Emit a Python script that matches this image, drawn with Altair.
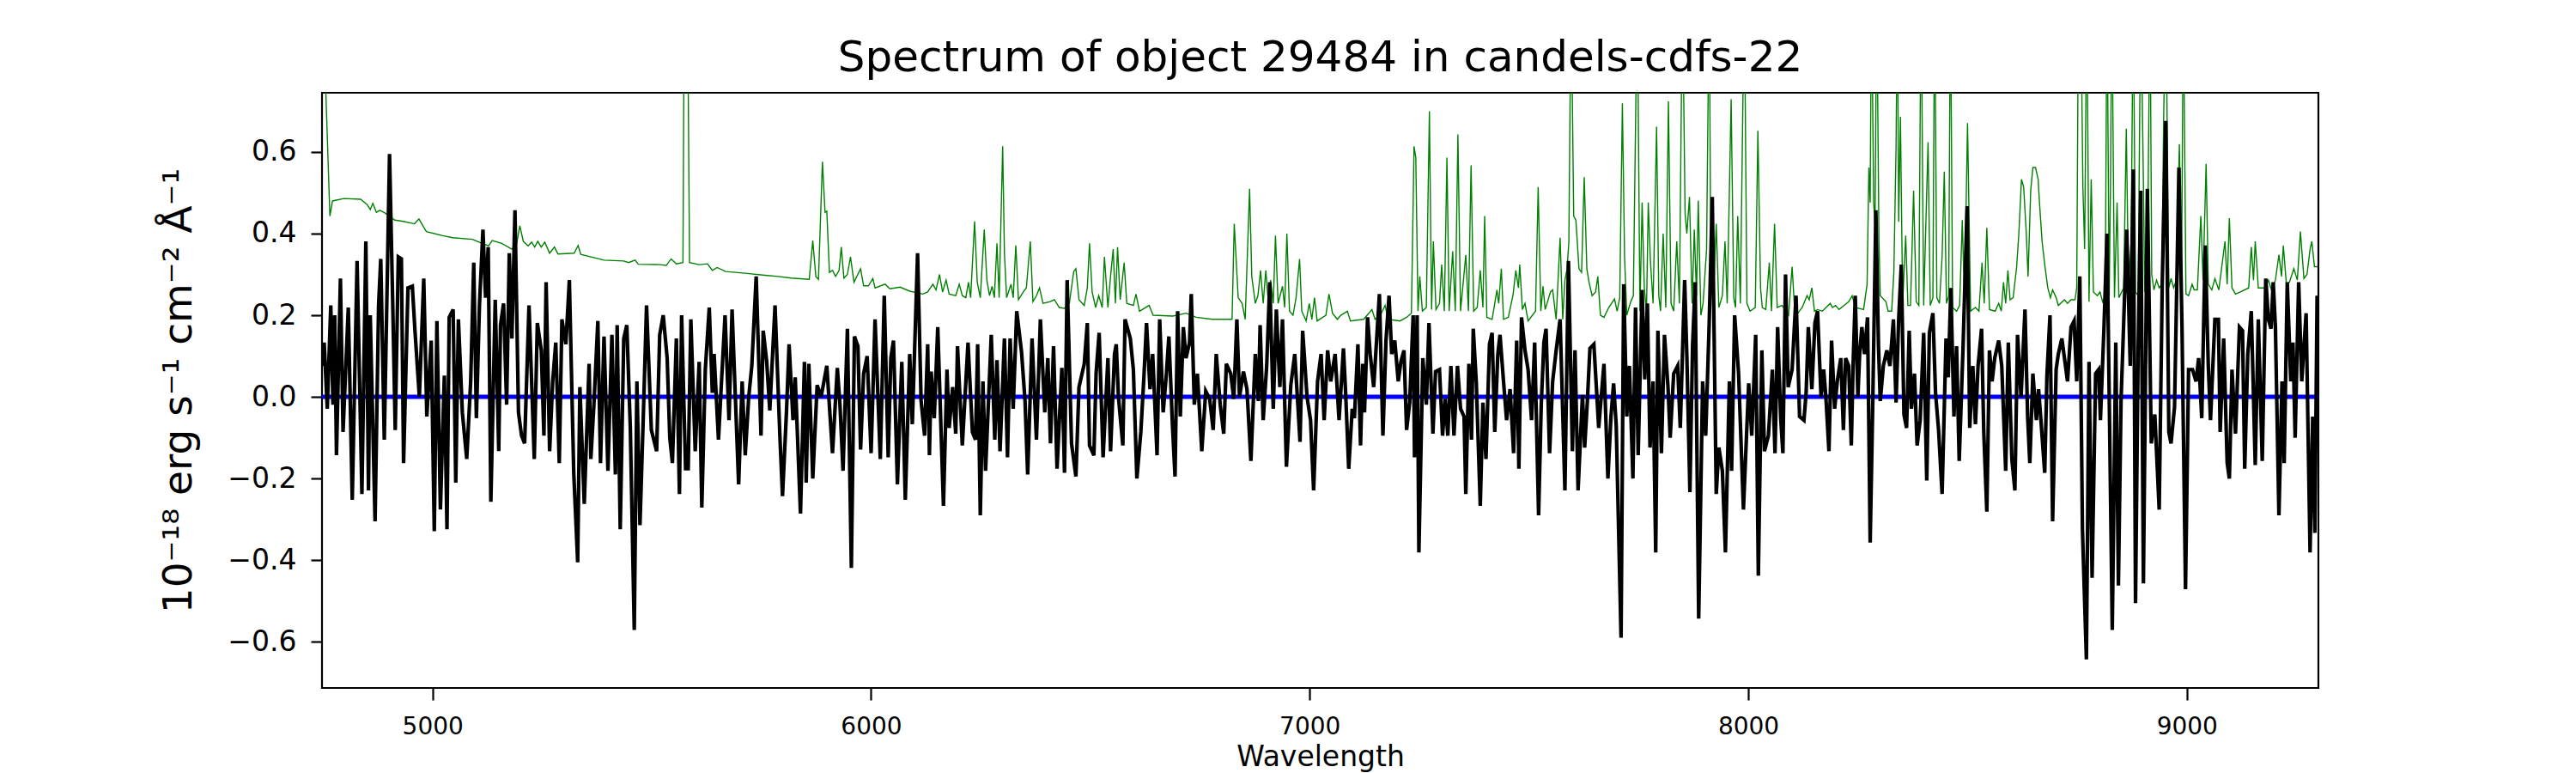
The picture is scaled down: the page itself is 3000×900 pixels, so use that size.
import altair as alt
import pandas as pd

# ---------------- data ----------------
title_text = "Spectrum of object 29484 in candels-cdfs-22"
x_label = "Wavelength"
y_label = "10⁻¹⁸ erg s⁻¹ cm⁻² Å⁻¹"
x_ticks = [5000, 6000, 7000, 8000, 9000]
y_ticks = [-0.6, -0.4, -0.2, 0.0, 0.2, 0.4, 0.6]
x_range = [4748, 9300]
y_range = [-0.713, 0.745]

# black: object flux  (wavelength, flux)
flux_a = [(4748,0.076),(4753,0.133),(4760,-0.029),(4768,0.224),(4773,-0.019),(4777,0.2),(4781,-0.143),(4790,0.29),(4796,-0.086),(4808,0.219),
(4817,-0.252),(4828,0.333),(4839,-0.238),(4848,0.381),(4854,-0.229),(4858,0.2),(4869,-0.305),(4877,0.224),(4882,0.338),(4890,-0.105),
(4896,0.243),(4902,0.595),(4909,0.243),(4915,-0.081),(4922,0.343),(4929,0.338),(4934,-0.162),(4944,0.267),(4954,0.271),(4960,0.162),
(4970,0.0),(4980,0.29),(4987,-0.048),(4997,0.138),(5004,-0.329),(5010,0.186),(5018,-0.276),(5027,0.052),(5033,-0.324),(5038,0.195),
(5047,0.214),(5053,-0.21),(5059,0.19),(5068,-0.038),(5078,-0.152),(5087,0.038),(5094,0.329),(5100,-0.052),(5107,0.224),(5115,0.41),
(5121,0.243),(5127,0.367),(5133,-0.257),(5143,0.238),(5151,-0.133),(5155,0.176),(5162,0.229),(5169,-0.019),(5175,0.352),(5181,0.143),
(5188,0.457),(5196,-0.038),(5203,-0.095),(5210,-0.114),(5220,0.224),(5232,-0.152),(5239,0.181),(5248,0.114),(5254,-0.095),(5259,0.281),
(5267,-0.133),(5274,0.038),(5281,0.133),(5289,-0.162),(5295,0.19),(5304,0.129),(5312,0.286),(5322,-0.186),(5331,-0.405),(5336,0.024),
(5346,-0.262),(5357,0.081),(5361,-0.152),(5368,-0.019),(5377,0.186),(5383,-0.162),(5391,0.148),(5400,-0.181),(5409,0.152),(5417,-0.19),
(5421,0.176),(5428,-0.324),(5436,0.143),(5443,0.176),(5451,-0.076),(5460,-0.571),(5466,0.038),(5473,-0.314),(5481,-0.033),(5488,0.224),
(5499,-0.081),(5511,-0.133),(5518,0.152),(5526,0.2),(5535,0.095),(5541,-0.1),(5547,-0.162),(5556,0.143),(5563,-0.238),(5568,0.2),
(5577,-0.176),(5583,-0.176),(5589,0.19),(5599,-0.133),(5608,0.086),(5614,-0.271),(5622,0.067),(5631,0.219),(5638,0.01),(5642,0.105),
(5652,-0.105),(5658,0.019),(5667,0.2),(5676,-0.057),(5683,0.214),(5698,-0.214),(5706,0.038),(5713,-0.143),(5721,0.0),(5728,0.076),
(5738,0.295),(5749,-0.095),(5754,0.162),(5762,0.086),(5769,-0.033),(5781,0.224),(5792,-0.095),(5798,-0.243),(5807,-0.038),(5813,0.129),
(5822,-0.057),(5827,0.048),(5839,-0.286),(5848,0.086),(5852,-0.21),(5858,0.081),(5867,-0.2),(5877,0.029),(5886,0.0),(5899,0.076),(5912,-0.138)]

flux_b = [(5923,0.071),(5929,-0.019),(5936,-0.181),(5946,0.167),(5955,-0.419),(5962,0.148),(5970,0.124),(5976,-0.129),(5983,0.057),(5991,0.1),
(6000,-0.138),(6009,0.19),(6021,-0.152),(6030,0.248),(6039,-0.148),(6045,0.095),(6051,0.138),(6060,-0.214),(6070,0.086),(6078,-0.252),
(6088,0.105),(6094,-0.067),(6106,0.352),(6114,-0.01),(6122,-0.095),(6129,0.129),(6133,-0.143),(6137,0.062),(6144,-0.052),(6152,0.171),
(6165,-0.267),(6173,0.067),(6178,-0.076),(6186,0.024),(6193,-0.09),(6197,0.124),(6208,-0.119),(6221,0.133),(6231,-0.086),(6238,-0.105),
(6243,0.129),(6249,-0.29),(6255,0.038),(6261,-0.181),(6274,0.152),(6282,-0.105),(6287,0.09),(6294,-0.133),(6304,0.143),(6311,-0.148),
(6317,0.143),(6324,-0.029),(6332,0.21),(6343,0.11),(6351,-0.01),(6357,-0.19),(6367,0.143),(6377,-0.105),(6386,0.19),(6396,-0.038),
(6403,0.095),(6409,-0.114),(6416,0.124),(6424,-0.176),(6435,0.071),(6441,-0.186),(6447,0.286),(6457,-0.114),(6467,-0.195),(6474,0.024),
(6486,0.081),(6493,0.181),(6498,-0.119),(6508,-0.143),(6513,0.057),(6520,0.157),(6529,-0.148),(6540,0.095),(6546,-0.133),(6555,0.105),
(6559,0.129),(6564,0.0),(6574,-0.119),(6579,0.19),(6591,0.143),(6598,0.067),(6606,-0.2),(6615,-0.086),(6622,0.048),(6628,0.181),
(6636,0.019),(6642,0.105),(6652,-0.143),(6658,0.19),(6666,-0.038),(6673,0.052),(6679,0.148),(6687,-0.067),(6693,-0.195),(6699,0.21),
(6705,-0.048),(6712,0.171),(6718,0.095),(6726,0.133),(6730,0.252),(6737,-0.019),(6744,0.057),(6754,-0.133),(6763,0.014),(6772,-0.005),
(6780,-0.081),(6787,0.105),(6796,-0.019),(6804,-0.09),(6810,0.081),(6820,0.057),(6827,-0.005),(6834,0.19),(6840,0.0),(6849,0.062),
(6857,0.019),(6866,-0.157),(6876,0.105),(6883,-0.01),(6887,0.176),(6894,-0.057),(6902,0.076),(6909,0.281),(6917,-0.029),(6924,0.214),
(6932,0.024),(6938,0.19),(6947,-0.171),(6957,0.029),(6966,0.105),(6973,-0.019),(6978,-0.11),(6984,0.162),(6994,0.0),(7002,-0.057),
(7009,-0.229),(7018,0.038),(7026,0.105),(7033,-0.057),(7041,0.114),(7048,0.038),(7058,0.105),(7067,-0.057)]

flux_c = [(7077,0.119),(7082,0.01),(7089,-0.176),(7097,-0.029),(7102,-0.052),(7110,0.129),(7116,-0.119),(7121,0.081),(7125,-0.038),(7132,0.195),
(7138,0.105),(7146,0.024),(7152,0.129),(7159,0.252),(7167,-0.095),(7174,0.138),(7181,0.248),(7187,0.105),(7194,0.138),(7202,0.038),
(7208,0.086),(7215,0.114),(7221,-0.081),(7228,-0.014),(7236,0.2),(7239,-0.148),(7245,0.2),(7249,-0.381),(7258,0.095),(7266,-0.019),
(7272,0.181),(7281,-0.09),(7287,0.062),(7296,0.067),(7303,-0.095),(7309,-0.005),(7315,-0.095),(7322,0.076),(7329,-0.095),(7337,0.076),
(7344,-0.029),(7352,-0.048),(7356,-0.238),(7363,0.081),(7369,-0.105),(7373,0.167),(7380,0.033),(7389,-0.267),(7395,-0.014),(7402,-0.152),
(7410,0.129),(7416,0.157),(7422,-0.086),(7429,0.105),(7434,0.152),(7442,0.038),(7449,-0.057),(7457,0.019),(7465,-0.138),(7472,0.138),
(7477,-0.176),(7483,0.195),(7491,0.114),(7498,0.067),(7506,-0.057),(7513,0.133),(7522,-0.29),(7528,-0.019),(7534,0.133),(7539,0.167),
(7547,-0.138),(7554,0.038),(7562,0.114),(7571,0.19),(7582,-0.229),(7590,0.333),(7599,-0.133),(7605,0.114),(7612,-0.229),(7622,0.005),
(7627,-0.124),(7633,-0.014),(7639,0.119),(7648,0.129),(7656,-0.019),(7659,-0.076),(7671,0.081),(7680,-0.2),(7687,-0.048),(7693,0.033),
(7699,-0.071),(7710,-0.59),(7716,0.276),(7723,-0.048),(7729,0.076),(7737,-0.2),(7743,0.219),(7749,-0.143),(7758,0.262),(7764,0.043),
(7770,0.229),(7776,-0.124),(7783,0.038),(7789,-0.381),(7794,0.162),(7802,-0.138),(7809,0.152),(7817,0.024),(7822,-0.1),(7830,0.057),
(7839,0.076),(7845,-0.076),(7855,0.286),(7860,0.1),(7867,-0.233),(7873,0.124),(7879,0.281),(7887,-0.543),(7896,0.038),(7903,-0.095),
(7911,0.181),(7918,0.49),(7927,-0.238),(7933,-0.124),(7941,-0.181),(7948,-0.381),(7957,0.038),(7962,-0.181),(7969,0.2),(7978,0.057),
(7989,-0.276),(8001,0.033),(8008,-0.095),(8017,0.152),(8023,-0.438),(8031,0.114),(8037,-0.133),(8046,-0.095),(8055,0.067),(8061,-0.138),
(8067,0.171),(8074,-0.052),(8079,-0.138),(8085,0.3),(8091,0.024),(8100,0.067),(8109,0.248),(8117,-0.048),(8127,-0.057),(8132,0.01),
(8137,0.171),(8145,0.019),(8152,0.181),(8158,0.21),(8166,0.0),(8172,0.067),(8177,0.0),(8184,-0.133),(8190,0.138),(8197,-0.029),
(8203,0.038),(8211,0.095),(8217,-0.081),(8222,0.095)]

flux_d = [(8229,0.076),(8235,-0.119),(8239,0.076),(8244,0.248),(8250,0.0),(8254,0.105),(8259,0.171),(8265,0.105),(8272,0.195),(8278,-0.357),
(8284,-0.01),(8291,0.457),(8297,0.124),(8301,-0.01),(8308,0.076),(8316,0.114),(8323,0.076),(8331,0.19),(8337,-0.014),(8343,0.19),
(8349,0.324),(8355,-0.043),(8361,-0.076),(8367,0.162),(8372,-0.029),(8379,0.057),(8385,-0.119),(8392,-0.057),(8400,0.157),(8407,-0.205),
(8413,0.157),(8421,0.205),(8427,0.01),(8434,-0.081),(8442,-0.238),(8451,0.143),(8456,0.048),(8462,0.267),(8469,-0.048),(8475,0.124),
(8481,-0.157),(8490,0.129),(8499,0.467),(8505,-0.076),(8512,0.076),(8518,-0.067),(8524,0.076),(8532,0.167),(8537,-0.086),(8544,-0.281),
(8550,0.114),(8556,0.038),(8562,0.095),(8571,0.138),(8578,0.076),(8587,-0.181),(8593,0.133),(8601,-0.152),(8608,-0.229),(8614,0.152),
(8622,0.0),(8631,0.214),(8637,-0.048),(8642,-0.162),(8649,0.057),(8657,-0.057),(8662,0.019),(8668,-0.067),(8676,-0.186),(8681,0.052),
(8688,0.2),(8694,-0.305),(8702,0.067),(8707,0.105),(8715,0.143),(8721,0.095),(8728,0.038),(8736,0.171),(8743,0.186),(8749,0.038),
(8756,0.295),(8762,-0.324),(8771,-0.643),(8777,0.086),(8784,-0.443),(8792,0.057),(8799,0.067),(8803,-0.057),(8811,0.167),(8818,0.4),
(8824,-0.076),(8830,-0.571),(8838,0.133),(8844,-0.462),(8850,-0.01),(8856,0.181),(8863,0.41),(8871,0.076),(8878,0.557),(8883,-0.505),
(8889,0.114),(8895,0.505),(8901,-0.457),(8910,0.51),(8919,-0.114),(8927,-0.043),(8937,-0.276),(8944,0.281),(8952,0.676),(8959,-0.086),
(8964,-0.114),(8972,-0.024),(8982,0.562),(8989,0.171),(8997,-0.471),(9004,0.067),(9013,0.067),(9021,0.038),(9027,0.095),(9034,-0.052),
(9042,0.371),(9049,0.076),(9054,-0.057),(9064,0.19),(9072,0.19),(9076,-0.086),(9084,0.143),(9092,-0.162),(9097,-0.2),(9103,0.067),
(9111,-0.09),(9120,0.171),(9127,0.162),(9132,-0.176),(9139,0.105),(9147,0.21),(9156,-0.167),(9163,0.19),(9172,-0.157),(9180,0.29),
(9186,0.19),(9192,0.167),(9197,0.281),(9202,0.171),(9210,-0.29),(9217,0.038),(9222,-0.162),(9229,0.281),(9237,0.038),(9242,0.133),
(9247,-0.1),(9255,0.281),(9262,0.038),(9272,0.205),(9281,-0.381),(9287,-0.048),(9292,-0.333),(9297,0.248)]

# green: noise / sky spectrum (values above the frame are clipped)
noise_a = [(4749,1.0),(4766,0.443),(4772,0.48),(4798,0.486),(4836,0.484),(4851,0.471),(4858,0.459),(4864,0.474),(4872,0.452),(4880,0.457),
(4892,0.45),(4914,0.433),(4933,0.43),(4959,0.424),(4969,0.436),(4978,0.419),(4986,0.405),(5023,0.395),(5046,0.39),(5091,0.386),
(5113,0.376),(5128,0.37),(5136,0.383),(5158,0.376),(5181,0.362),(5192,0.376),(5199,0.419),(5207,0.381),(5218,0.37),(5226,0.379),
(5233,0.367),(5240,0.381),(5248,0.367),(5256,0.379),(5267,0.352),(5278,0.367),(5286,0.35),(5323,0.352),(5332,0.371),(5338,0.349),
(5391,0.335),(5436,0.333),(5447,0.329),(5462,0.335),(5469,0.325),(5518,0.324),(5533,0.322),(5544,0.338),(5556,0.326),(5571,0.329),
(5575,1.2),(5580,1.2),(5586,0.329),(5608,0.324),(5627,0.326),(5638,0.31),(5649,0.317),(5668,0.307),(5713,0.303),(5758,0.298),
(5788,0.295),(5818,0.291),(5859,0.288),(5867,0.383),(5874,0.295),(5880,0.288),(5889,0.576),(5895,0.452),(5899,0.455),(5905,0.305),(5912,0.31)]

noise_b = [(5919,0.295),(5927,0.31),(5932,0.367),(5938,0.291),(5946,0.3),(5953,0.343),(5961,0.281),(5976,0.314),(5983,0.272),(5994,0.272),
(6004,0.29),(6009,0.267),(6032,0.276),(6043,0.265),(6066,0.269),(6088,0.259),(6118,0.252),(6129,0.257),(6141,0.276),(6148,0.262),
(6156,0.3),(6163,0.257),(6171,0.286),(6178,0.252),(6193,0.248),(6201,0.276),(6208,0.248),(6216,0.243),(6222,0.281),(6227,0.243),
(6236,0.43),(6242,0.281),(6249,0.243),(6258,0.41),(6264,0.286),(6270,0.248),(6276,0.271),(6281,0.243),(6287,0.376),(6292,0.243),
(6300,0.614),(6304,0.352),(6309,0.243),(6319,0.276),(6324,0.243),(6330,0.371),(6336,0.238),(6347,0.257),(6354,0.267),(6363,0.381),
(6369,0.233),(6377,0.248),(6384,0.267),(6392,0.229),(6407,0.233),(6418,0.238),(6429,0.219),(6441,0.217),(6452,0.229),(6462,0.307),
(6467,0.314),(6474,0.238),(6486,0.224),(6493,0.267),(6498,0.376),(6504,0.257),(6512,0.219),(6519,0.248),(6527,0.219),(6532,0.343),
(6540,0.219),(6546,0.295),(6552,0.362),(6557,0.229),(6562,0.367),(6568,0.238),(6577,0.329),(6583,0.229),(6598,0.224),(6604,0.252),
(6612,0.21),(6634,0.224),(6643,0.2),(6688,0.198),(6718,0.205),(6741,0.195),(6778,0.19),(6814,0.19),(6823,0.19),(6828,0.424),
(6837,0.243),(6846,0.229),(6853,0.19),(6863,0.51),(6868,0.295),(6876,0.229),(6882,0.248),(6888,0.31),(6894,0.229),(6900,0.31),
(6906,0.229),(6911,0.286),(6917,0.229),(6922,0.395),(6928,0.229),(6938,0.271),(6943,0.219),(6948,0.4),(6954,0.21),(6962,0.2),
(6969,0.243),(6977,0.338),(6982,0.21),(6992,0.186),(6999,0.229),(7005,0.19),(7011,0.243),(7017,0.186),(7037,0.2),(7044,0.252),
(7052,0.205),(7063,0.19)]

noise_c = [(7071,0.2),(7086,0.21),(7093,0.186),(7123,0.19),(7131,0.2),(7142,0.214),(7149,0.19),(7161,0.2),(7172,0.224),(7179,0.19),
(7206,0.186),(7221,0.195),(7232,0.205),(7238,0.614),(7242,0.586),(7247,0.21),(7251,0.295),(7257,0.21),(7266,0.219),(7273,0.7),
(7278,0.214),(7282,0.381),(7288,0.214),(7296,0.229),(7301,0.324),(7307,0.21),(7313,0.586),(7318,0.21),(7326,0.357),(7332,0.21),
(7338,0.643),(7344,0.21),(7356,0.348),(7362,0.21),(7368,0.567),(7374,0.21),(7382,0.219),(7389,0.31),(7395,0.219),(7399,0.443),
(7404,0.195),(7416,0.19),(7427,0.262),(7431,0.229),(7437,0.314),(7442,0.19),(7453,0.195),(7464,0.252),(7470,0.31),(7476,0.267),
(7479,0.324),(7485,0.214),(7491,0.229),(7498,0.186),(7515,0.21),(7521,0.514),(7527,0.21),(7532,0.271),(7537,0.214),(7549,0.257),
(7554,0.262),(7562,0.19),(7571,0.39),(7577,0.19),(7582,0.286),(7587,0.314),(7591,0.381),(7596,1.0),(7602,0.443),(7607,0.433),
(7614,0.314),(7620,0.305),(7626,0.538),(7632,0.314),(7637,0.281),(7644,0.248),(7652,0.257),(7657,0.295),(7663,0.2),(7671,0.195),
(7682,0.219),(7695,0.24),(7701,0.21),(7707,0.243),(7713,0.719),(7718,0.343),(7723,0.2),(7732,0.233),(7738,0.248),(7747,1.0),
(7753,0.21),(7758,0.476),(7763,0.267),(7768,0.21),(7772,0.476),(7777,0.333),(7783,0.229),(7791,0.662),(7796,0.248),(7800,0.21),
(7806,0.4),(7812,0.219),(7818,0.724),(7824,0.229),(7830,0.21),(7837,0.381),(7843,0.229),(7850,1.0),(7856,0.448),(7860,0.4),
(7866,0.49),(7872,0.229),(7877,0.41),(7882,0.248),(7886,0.481),(7892,0.2),(7897,0.229),(7905,0.362),(7911,1.0),(7914,0.438),
(7920,0.229),(7927,0.424),(7933,0.219),(7941,0.248),(7947,0.381),(7952,0.229),(7961,0.729),(7967,0.243),(7971,0.219),(7976,0.443),
(7982,0.229),(7991,1.0),(7997,0.229),(8004,0.21),(8016,0.219),(8022,0.652),(8028,0.267),(8032,0.219),(8040,0.214),(8048,0.329),
(8053,0.21),(8060,0.424),(8066,0.219),(8077,0.224),(8092,0.2),(8100,0.319),(8106,0.21),(8113,0.205),(8123,0.219),(8134,0.248),
(8139,0.238),(8145,0.267),(8151,0.21),(8158,0.214),(8169,0.21),(8187,0.229),(8192,0.219),(8199,0.224),(8207,0.214)]

noise_d = [(8229,0.233),(8237,0.248),(8244,0.219),(8263,0.214),(8271,0.276),(8275,0.562),(8278,0.476),(8281,1.0),(8286,0.476),(8289,0.419),
(8293,1.0),(8298,0.381),(8301,0.248),(8314,0.233),(8319,0.21),(8327,0.21),(8332,0.305),(8337,0.61),(8340,1.0),(8343,0.429),
(8347,0.686),(8352,0.229),(8359,0.395),(8364,0.224),(8370,0.224),(8377,0.505),(8383,0.233),(8389,0.224),(8394,1.0),(8400,0.224),
(8410,0.624),(8415,0.224),(8421,0.243),(8425,1.0),(8430,0.243),(8436,0.229),(8442,0.343),(8447,0.552),(8452,0.229),(8457,0.248),
(8461,1.0),(8466,0.219),(8475,0.21),(8482,0.224),(8488,0.433),(8493,0.233),(8500,0.671),(8507,0.21),(8518,0.219),(8526,0.21),
(8533,0.329),(8538,0.229),(8544,0.414),(8550,0.214),(8563,0.21),(8571,0.229),(8577,0.21),(8582,0.281),(8587,0.229),(8592,0.31),
(8597,0.238),(8604,0.243),(8612,0.319),(8617,0.4),(8623,0.533),(8628,0.514),(8634,0.4),(8638,0.295),(8644,0.505),(8649,0.562),
(8655,0.562),(8661,0.533),(8664,0.476),(8670,0.381),(8676,0.324),(8683,0.267),(8689,0.243),(8694,0.262),(8702,0.243),(8707,0.224),
(8721,0.238),(8728,0.229),(8736,0.238),(8745,0.238),(8749,0.267),(8753,1.0),(8758,1.0),(8763,0.514),(8767,0.362),(8772,1.0),
(8777,0.233),(8782,0.533),(8787,0.257),(8796,0.248),(8802,0.257),(8808,0.233),(8814,0.248),(8818,1.0),(8823,0.248),(8826,0.524),
(8829,1.0),(8835,0.243),(8841,0.476),(8845,0.243),(8856,0.267),(8862,0.657),(8867,0.267),(8873,0.381),(8878,1.0),(8883,0.257),
(8889,0.248),(8895,1.0),(8901,0.524),(8904,0.257),(8910,0.295),(8916,1.0),(8920,0.3),(8925,0.262),(8931,0.286),(8937,0.267),
(8943,0.276),(8947,0.671),(8952,1.0),(8959,0.267),(8964,0.29),(8970,0.267),(8976,0.286),(8983,0.619),(8988,0.286),(8992,1.0),
(8998,0.252),(9004,0.248),(9012,0.276),(9017,0.262),(9024,0.262),(9032,0.443),(9037,0.286),(9044,0.571),(9049,0.276),(9057,0.262),
(9064,0.29),(9073,0.262),(9087,0.381),(9092,0.276),(9097,0.438),(9103,0.267),(9111,0.252),(9122,0.257),(9141,0.267),(9147,0.367),
(9152,0.286),(9156,0.381),(9163,0.267),(9178,0.267),(9186,0.286),(9193,0.262),(9202,0.286),(9210,0.348),(9216,0.295),(9220,0.371),
(9227,0.276),(9234,0.281),(9244,0.314),(9252,0.286),(9259,0.405),(9267,0.29),(9274,0.3),(9281,0.362),(9285,0.381),(9291,0.319),(9298,0.319)]

# blue: zero-level model
model_pts = [(4748, 0.0), (9300, 0.0)]

# ---------------- build the chart ----------------
FONT = "DejaVu Sans"

def frame(pairs):
    return pd.DataFrame(pairs, columns=["wave", "flux"])

flux_df = frame(flux_a + flux_b + flux_c + flux_d)
noise_df = frame(noise_a + noise_b + noise_c + noise_d)
model_df = frame(model_pts)

x_enc = alt.X(
    "wave:Q",
    scale=alt.Scale(domain=x_range, nice=False, zero=False),
    axis=alt.Axis(
        title=x_label, values=x_ticks, format="d",
        labelFontSize=28, labelPadding=17, tickSize=14,
        titleFontSize=33, titleY=90, titleBaseline="alphabetic",
    ),
)
y_enc = alt.Y(
    "flux:Q",
    scale=alt.Scale(domain=y_range, nice=False, zero=False),
    axis=alt.Axis(
        title=y_label, values=y_ticks, format=".1f",
        labelFontSize=33, labelPadding=17, tickSize=13,
        titleFontSize=47, titleX=-167, titleY=346.5, titleAngle=270,
        titleAlign="center", titleBaseline="middle",
    ),
)

model_line = alt.Chart(model_df).mark_line(color="#0000ff", strokeWidth=5, clip=True).encode(x=x_enc, y=y_enc)
noise_line = alt.Chart(noise_df).mark_line(color="#008000", strokeWidth=1.4, clip=True).encode(x=x_enc, y=y_enc)
flux_line = alt.Chart(flux_df).mark_line(color="#000000", strokeWidth=4.2, clip=True).encode(x=x_enc, y=y_enc)

chart = (
    alt.layer(model_line, noise_line, flux_line)
    .properties(
        width=2325,
        height=693,
        background="white",
        autosize=alt.AutoSizeParams(type="none"),
        padding={"left": 367, "top": 100, "right": 292, "bottom": 99},
        title=alt.TitleParams(
            title_text, fontSize=50, font=FONT, fontWeight="normal",
            anchor="middle", baseline="alphabetic", offset=25, dy=50, color="black",
        ),
    )
    .configure_view(stroke="black", strokeWidth=2.2)
    .configure_axis(
        domain=False, grid=False, ticks=True, tickColor="black", tickWidth=2.2,
        labelFont=FONT, labelColor="black", titleFont=FONT, titleColor="black",
        titleFontWeight="normal",
    )
)

chart.save("out.html", embed_options={"renderer": "svg", "actions": False})
